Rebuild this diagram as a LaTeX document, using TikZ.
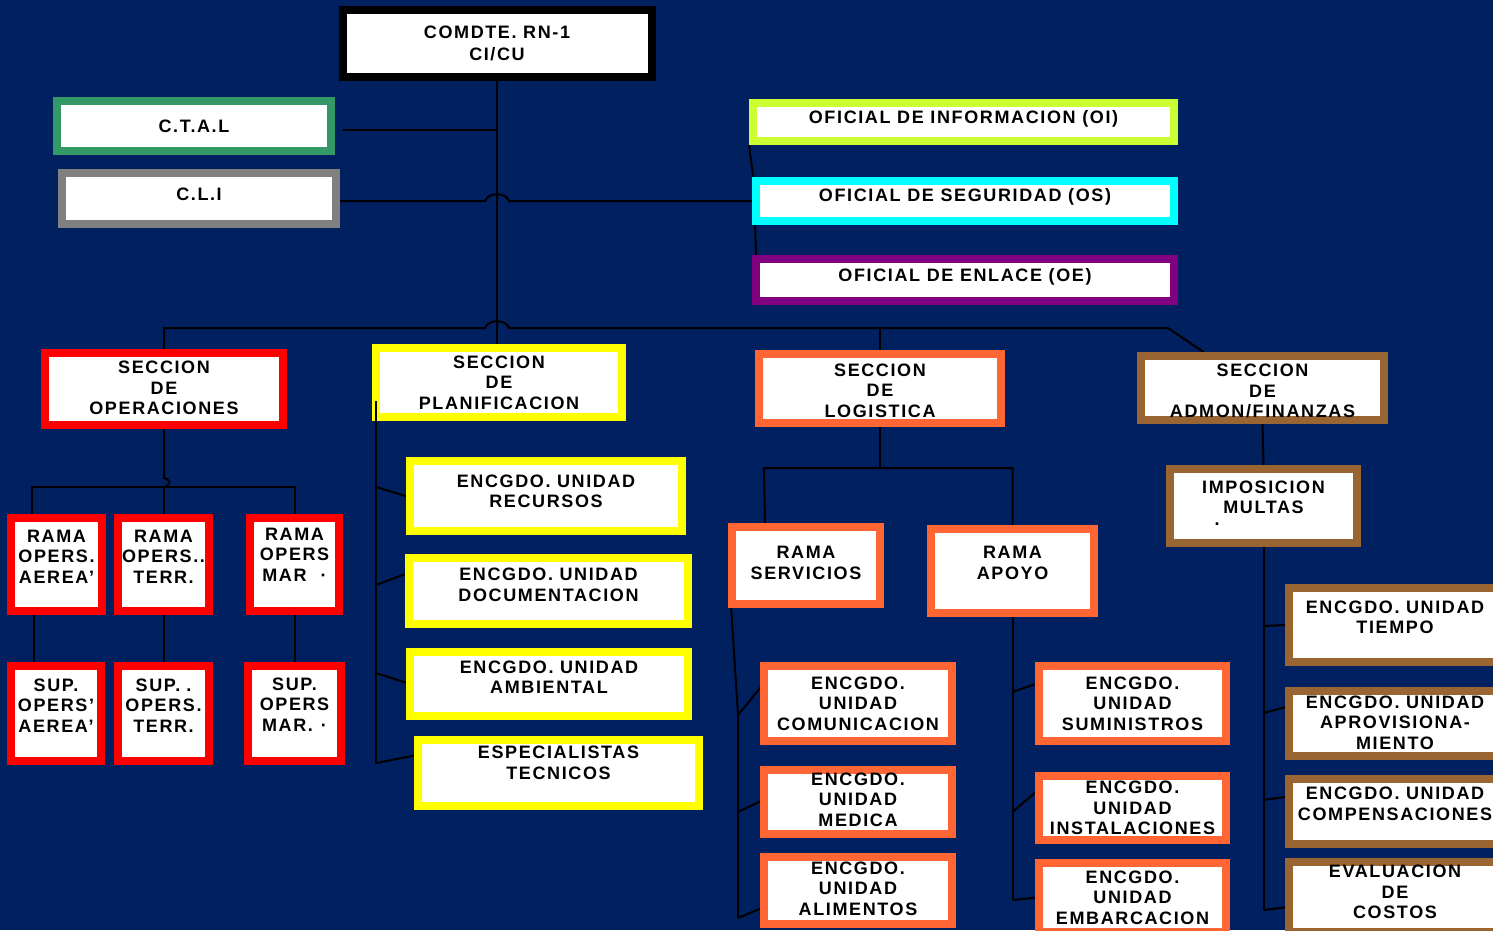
\documentclass[tikz,border=0pt]{standalone}
\usepackage{fontspec}
\setmainfont{Liberation Sans}[LetterSpace=9]
\usetikzlibrary{calc}
\pgfdeclarelayer{back}
\pgfdeclarelayer{lines}
\pgfsetlayers{back,lines,main}
\definecolor{navybg}{RGB}{0,32,96}
\definecolor{ctalgreen}{RGB}{51,153,102}
\definecolor{cligray}{RGB}{128,128,128}
\definecolor{oilime}{RGB}{204,255,51}
\definecolor{oscyan}{RGB}{0,255,255}
\definecolor{oepurple}{RGB}{128,0,128}
\definecolor{opsred}{RGB}{255,0,0}
\definecolor{planyellow}{RGB}{255,255,0}
\definecolor{logorange}{RGB}{255,102,51}
\definecolor{admbrown}{RGB}{153,102,51}

\begin{document}
\begin{tikzpicture}[x=1pt,y=-1pt,
  unitbox/.style={draw=#1,fill=white,line width=8pt,inner sep=0pt},
  dims/.style 2 args={minimum width=#1pt,minimum height=#2pt},
  every label/.style={align=center,inner sep=0pt,font=\bfseries\fontsize{18}{20.5}\selectfont},
  wire/.style={line width=2pt}]
\useasboundingbox (0,0) rectangle (1493,930);
\begin{pgfonlayer}{back}
\fill[navybg] (0,0) rectangle (1493,930);
\end{pgfonlayer}

\node[unitbox=black,dims={309}{67},label={center:COMDTE. RN-1\\[1pt]CI/CU}] (cmd) at (497,43.5) {};
\node[unitbox=ctalgreen,dims={274}{50},label={center:C.T.A.L}] (ctal) at (194,126) {};
\node[unitbox=cligray,dims={274}{51},label={[yshift=4pt]center:C.L.I}] (cli) at (199,198.5) {};
\node[unitbox=oilime,dims={421}{38},label={[yshift=3pt]center:OFICIAL DE INFORMACION (OI)}] (oi) at (963.5,122) {};
\node[unitbox=oscyan,dims={418}{40},label={[yshift=4pt]center:OFICIAL DE SEGURIDAD (OS)}] (os) at (965,201) {};
\node[unitbox=oepurple,dims={418}{42},label={[yshift=3pt]center:OFICIAL DE ENLACE (OE)}] (oe) at (965,280) {};

\node[unitbox=opsred,dims={238}{72},label={[yshift=1pt]center:SECCION\\DE\\OPERACIONES}] (ops) at (164,389) {};
\node[unitbox=planyellow,dims={246}{69},label={center:SECCION\\DE\\PLANIFICACION}] (plan) at (499,382.5) {};
\node[unitbox=logorange,dims={242}{69},label={[yshift=-2pt]center:SECCION\\DE\\LOGISTICA}] (log) at (880,388.5) {};
\node[unitbox=admbrown,dims={243}{64},label={[yshift=-3pt]center:SECCION\\DE\\ADMON/FINANZAS}] (adm) at (1262.5,388) {};

\node[unitbox=opsred,dims={91}{93},label={[yshift=8pt]center:RAMA\\OPERS.\\AEREA’}] (raa) at (56.5,564.5) {};
\node[unitbox=opsred,dims={91}{93},label={[yshift=8pt]center:RAMA\\OPERS..\\TERR.}] (rat) at (163.5,564.5) {};
\node[unitbox=opsred,dims={89}{93},label={[yshift=10pt]center:RAMA\\OPERS\\MAR\hspace{14pt}·}] (ram) at (294.5,564.5) {};
\node[unitbox=opsred,dims={90}{95},label={[yshift=8pt]center:SUP.\\OPERS’\\AEREA’}] (spa) at (56,713.5) {};
\node[unitbox=opsred,dims={91}{95},label={[yshift=8pt]center:SUP.\hspace{6pt}.\\OPERS.\\TERR.}] (spt) at (163.5,713.5) {};
\node[unitbox=opsred,dims={93}{95},label={[yshift=9pt]center:SUP.\\OPERS\\MAR.\hspace{8pt}·}] (spm) at (294.5,713.5) {};

\node[unitbox=planyellow,dims={272}{70},label={[yshift=4.5pt]center:ENCGDO. UNIDAD\\RECURSOS}] (rec) at (546,496) {};
\node[unitbox=planyellow,dims={279}{66},label={[yshift=6pt]center:ENCGDO. UNIDAD\\DOCUMENTACION}] (doc) at (548.5,591) {};
\node[unitbox=planyellow,dims={278}{64},label={[yshift=7pt]center:ENCGDO. UNIDAD\\AMBIENTAL}] (amb) at (549,684) {};
\node[unitbox=planyellow,dims={281}{66},label={[yshift=10pt]center:ESPECIALISTAS\\TECNICOS}] (esp) at (558.5,773) {};

\node[unitbox=logorange,dims={148}{77},label={[yshift=2.5pt]center:RAMA\\SERVICIOS}] (srv) at (806,565.5) {};
\node[unitbox=logorange,dims={163}{84},label={[yshift=8pt]center:RAMA\\APOYO}] (apo) at (1012.5,571) {};
\node[unitbox=logorange,dims={188}{75},label={center:ENCGDO.\\UNIDAD\\COMUNICACION}] (com) at (858,703.5) {};
\node[unitbox=logorange,dims={188}{64},label={[yshift=2.5pt]center:ENCGDO.\\UNIDAD\\MEDICA}] (med) at (858,802) {};
\node[unitbox=logorange,dims={188}{67},label={[yshift=2pt]center:ENCGDO.\\UNIDAD\\ALIMENTOS}] (ali) at (858,890.5) {};
\node[unitbox=logorange,dims={187}{75},label={center:ENCGDO.\\UNIDAD\\SUMINISTROS}] (sum) at (1132.5,703.5) {};
\node[unitbox=logorange,dims={187}{64},label={center:ENCGDO.\\UNIDAD\\INSTALACIONES}] (ins) at (1132.5,808) {};
\node[unitbox=logorange,dims={187}{69},label={center:ENCGDO.\\UNIDAD\\EMBARCACION}] (emb) at (1132.5,897.5) {};

\node[unitbox=admbrown,dims={187}{74},label={[yshift=3pt]center:IMPOSICION\\MULTAS\\[-9pt]\makebox[0pt][r]{.\hspace{44pt}}}] (imp) at (1263.5,506) {};
\node[unitbox=admbrown,dims={212}{74},label={[yshift=7.5pt]center:ENCGDO. UNIDAD\\TIEMPO}] (tie) at (1395,625) {};
\node[unitbox=admbrown,dims={212}{65},label={[yshift=1pt]center:ENCGDO. UNIDAD\\APROVISIONA-\\MIENTO}] (apr) at (1395,723.5) {};
\node[unitbox=admbrown,dims={212}{65},label={[yshift=7.5pt]center:ENCGDO. UNIDAD\\COMPENSACIONES}] (cmp) at (1395,811.5) {};
\node[unitbox=admbrown,dims={212}{70},label={[yshift=5pt]center:EVALUACION\\DE\\COSTOS}] (cst) at (1395,897) {};

\begin{pgfonlayer}{lines}
\coordinate (hub) at (cmd.south |- 0,328);
\coordinate (bend) at (1168,328);
\coordinate (cross) at (cmd.south |- os.west);
\coordinate (tap) at ($(ctal.east)+(8,4)$);
\draw[wire] (cmd.south) -- (cmd.south |- plan.north);
\draw[wire] (tap) -- (tap -| cmd.south);
\draw[wire] (cli.east |- os.west) -- ($(cross)+(-12,0)$) .. controls ($(cross)+(-9,-9)$) and ($(cross)+(9,-9)$) .. ($(cross)+(12,0)$) -- (os.west);
\draw[wire] (oi.south west) -- ($(os.west)+(3,-10)$);
\draw[wire] ($(os.west)+(3,21)$) -- ($(oe.north west)+(4,0)$);

\draw[wire] (ops.north) -- (ops.north |- hub) -- ($(hub)+(-12,0)$) .. controls ($(hub)+(-9,-9)$) and ($(hub)+(9,-9)$) .. ($(hub)+(12,0)$) -- (bend) -- ($(adm.north)+(-59,0)$);
\draw[wire] (log.north |- hub) -- (log.north);

\coordinate (oj) at ($(ops.south)+(0,58)$);
\coordinate (oa) at ($(raa.north west)+(25,0)$);
\draw[wire] (ops.south) -- ($(ops.south)+(0,49)$) .. controls ($(ops.south)+(7,50)$) and ($(ops.south)+(7,57)$) .. (oj);
\draw[wire] (oa) |- (ram.north |- oj) -- (ram.north);
\draw[wire] (rat.north |- oj) -- (rat.north);
\draw[wire] ($(raa.south west)+(27,0)$) -- ($(spa.north west)+(27,0)$);
\draw[wire] (rat.south) -- (spt.north);
\draw[wire] (ram.south) -- (spm.north);

\draw[wire] ($(rec.west)+(-30,-9)$) -- (rec.west);
\draw[wire] ($(doc.west)+(-29,-6)$) -- ($(doc.west)+(3,-18)$);
\draw[wire] ($(amb.west)+(-30,-11)$) -- ($(amb.west)+(4,0)$);
\draw[wire] ($(esp.west)+(-38,-10)$) -- ($(esp.west)+(3,-18)$);

\draw[wire] (log.south) -- ($(log.south)+(0,41)$);
\draw[wire] ($(srv.north)+(-41,0)$) -- ($(srv.north)+(-42,-55)$) -| (apo.north);
\coordinate (st) at ($(srv.south west)+(10,107)$);
\draw[wire] ($(srv.south west)+(3,-3)$) -- (st) -- ($(st)+(0,203)$);
\draw[wire] (st) -- ($(com.west)+(3,-19)$);
\draw[wire] ($(st)+(0,97)$) -- ($(med.west)+(3,-2)$);
\draw[wire] ($(st)+(0,203)$) -- ($(ali.west)+(3,17)$);
\draw[wire] (apo.south) -- ($(apo.south)+(0,283)$);
\draw[wire] ($(apo.south)+(0,75)$) -- ($(sum.west)+(2,-20)$);
\draw[wire] ($(apo.south)+(0,195)$) -- ($(ins.west)+(2,-17)$);
\draw[wire] ($(apo.south)+(0,283)$) -- ($(emb.west)+(2,0)$);

\draw[wire] (adm.south) -- (imp.north);
\draw[wire] (imp.south) -- ($(imp.south)+(0,363)$);
\draw[wire] ($(imp.south)+(0,79)$) -- (tie.west);
\draw[wire] ($(imp.south)+(0,166)$) -- ($(apr.west)+(3,-17)$);
\draw[wire] ($(imp.south)+(0,253)$) -- ($(cmp.west)+(3,-15)$);
\draw[wire] ($(imp.south)+(0,363)$) -- ($(cst.west)+(3,10)$);
\end{pgfonlayer}

\coordinate (pt) at ($(plan.west)+(4,18)$);
\draw[wire] (pt) -- ($(pt)+(0,363)$);
\end{tikzpicture}
\end{document}
